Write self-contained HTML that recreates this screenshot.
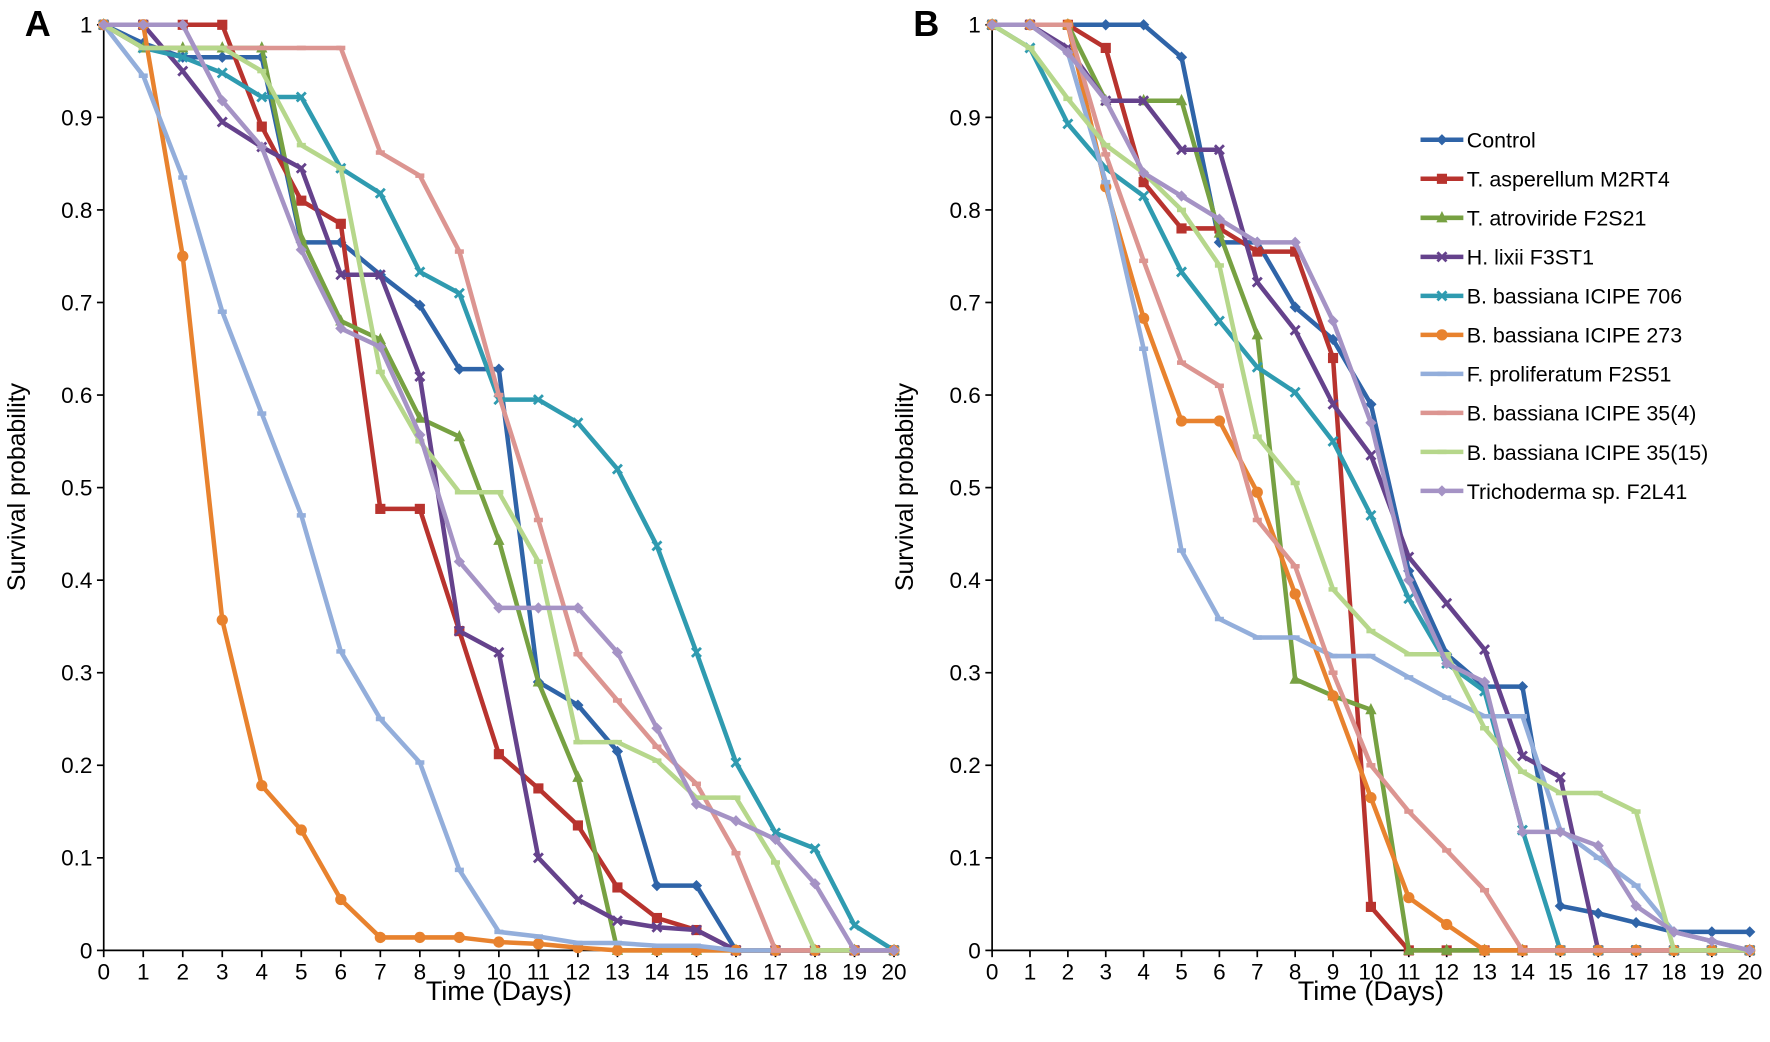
<!DOCTYPE html>
<html><head><meta charset="utf-8"><style>
html,body{margin:0;padding:0;background:#fff;}
svg{display:block;font-family:"Liberation Sans",Arial,sans-serif;}
</style></head><body>
<svg width="1770" height="1042" viewBox="0 0 1770 1042" xmlns="http://www.w3.org/2000/svg"><g id="s" transform="scale(1.1274)"></g></svg>
<script>
const C=["#2f64a8","#b8332e","#77a142","#65428c","#2f9bb0","#e8822e","#93aedb","#dc9591","#b6d78b","#a593c5"];
const names=["Control","T. asperellum M2RT4","T. atroviride F2S21","H. lixii F3ST1","B. bassiana ICIPE 706","B. bassiana ICIPE 273","F. proliferatum F2S51","B. bassiana ICIPE 35(4)","B. bassiana ICIPE 35(15)","Trichoderma sp. F2L41"];
const A=[
[1,0.98,0.965,0.965,0.965,0.765,0.765,0.73,0.697,0.628,0.628,0.29,0.265,0.215,0.07,0.07,0,0,0,0,0],
[1,1,1,1,0.89,0.81,0.785,0.477,0.477,0.345,0.212,0.175,0.135,0.068,0.035,0.022,0,0,0,0,0],
[1,0.975,0.975,0.975,0.975,0.77,0.68,0.66,0.575,0.555,0.443,0.29,0.187,0,0,0,0,0,0,0,0],
[1,1,0.95,0.895,0.868,0.845,0.73,0.73,0.62,0.345,0.322,0.1,0.055,0.032,0.025,0.022,0,0,0,0,0],
[1,0.975,0.965,0.948,0.922,0.922,0.845,0.818,0.733,0.71,0.595,0.595,0.57,0.52,0.437,0.322,0.203,0.127,0.11,0.027,0],
[1,1,0.75,0.357,0.178,0.13,0.055,0.014,0.014,0.014,0.009,0.007,0.003,0,0,0,0,0,0,0,0],
[1,0.945,0.835,0.69,0.58,0.47,0.323,0.25,0.203,0.087,0.02,0.015,0.008,0.008,0.005,0.005,0,0,0,0,0],
[1,0.975,0.975,0.975,0.975,0.975,0.975,0.862,0.837,0.755,0.6,0.465,0.32,0.27,0.22,0.18,0.105,0,0,0,0],
[1,0.975,0.975,0.975,0.95,0.87,0.845,0.625,0.55,0.495,0.495,0.42,0.225,0.225,0.205,0.165,0.165,0.095,0,0,0],
[1,1,1,0.918,0.868,0.757,0.672,0.652,0.557,0.42,0.37,0.37,0.37,0.322,0.24,0.158,0.14,0.12,0.072,0,0]];
const B=[
[1,1,1,1,1,0.965,0.765,0.765,0.695,0.66,0.59,0.41,0.32,0.285,0.285,0.048,0.04,0.03,0.02,0.02,0.02],
[1,1,1,0.975,0.83,0.78,0.78,0.755,0.755,0.64,0.047,0,0,0,0,0,0,0,0,0,0],
[1,1,1,0.918,0.918,0.918,0.775,0.665,0.293,0.275,0.26,0,0,0,0,0,0,0,0,0,0],
[1,1,0.975,0.918,0.918,0.865,0.865,0.722,0.67,0.59,0.535,0.425,0.375,0.325,0.21,0.187,0,0,0,0,0],
[1,0.975,0.893,0.845,0.815,0.733,0.68,0.63,0.603,0.55,0.47,0.38,0.31,0.28,0.13,0,0,0,0,0,0],
[1,1,1,0.825,0.683,0.572,0.572,0.495,0.385,0.275,0.165,0.057,0.028,0,0,0,0,0,0,0,0],
[1,1,0.97,0.83,0.65,0.432,0.358,0.338,0.338,0.318,0.318,0.295,0.273,0.253,0.253,0.13,0.1,0.07,0.02,0.01,0],
[1,1,1,0.86,0.745,0.635,0.61,0.465,0.415,0.3,0.2,0.15,0.108,0.065,0,0,0,0,0,0,0],
[1,0.975,0.92,0.87,0.84,0.8,0.74,0.555,0.505,0.39,0.345,0.32,0.32,0.24,0.193,0.17,0.17,0.15,0,0,0],
[1,1,0.97,0.918,0.84,0.815,0.79,0.765,0.765,0.68,0.57,0.4,0.31,0.29,0.128,0.128,0.113,0.048,0.02,0.01,0]];
let h="";
const Y0=843,Y1=22;
function marker(i,x,y){const c=C[i];
 switch(i){
 case 0:case 9:return `<polygon points="${x},${y-5} ${x+5},${y} ${x},${y+5} ${x-5},${y}" fill="${c}"/>`;
 case 1:return `<rect x="${x-4.5}" y="${y-4.5}" width="9" height="9" fill="${c}"/>`;
 case 2:return `<polygon points="${x},${y-6} ${x+5},${y+4} ${x-5},${y+4}" fill="${c}"/>`;
 case 5:return `<circle cx="${x}" cy="${y}" r="5" fill="${c}"/>`;
 case 3:case 4:return `<path d="M${x-4} ${y-4}L${x+4} ${y+4}M${x-4} ${y+4}L${x+4} ${y-4}" stroke="${c}" stroke-width="2.5"/>`;
 default:return `<rect x="${x-4}" y="${y-2}" width="8" height="4" fill="${c}"/>`;}}
function panel(D,x0,x1,lab){
 const sx=d=>x0+(x1-x0)*d/20, sy=v=>Y0-(Y0-Y1)*v;
 h+=`<line x1="${x0}" y1="${Y1}" x2="${x0}" y2="${Y0}" stroke="#000" stroke-width="1.5"/>`;
 h+=`<line x1="${x0}" y1="${Y0}" x2="${x1}" y2="${Y0}" stroke="#000" stroke-width="1.5"/>`;
 for(let k=0;k<=10;k++){const y=sy(k/10);h+=`<line x1="${x0-6}" y1="${y}" x2="${x0}" y2="${y}" stroke="#000" stroke-width="1.5"/>`;
  h+=`<text x="${x0-10}" y="${y+7}" font-size="20" text-anchor="end">${k==10?"1":k==0?"0":"0."+k}</text>`;}
 for(let d=0;d<=20;d++){const x=sx(d);h+=`<line x1="${x}" y1="${Y0}" x2="${x}" y2="${Y0+6}" stroke="#000" stroke-width="1.5"/>`;
  h+=`<text x="${x}" y="${Y0+26}" font-size="20" text-anchor="middle">${d}</text>`;}
 h+=`<text x="${(x0+x1)/2}" y="887" font-size="24" text-anchor="middle">Time (Days)</text>`;
 h+=`<text transform="translate(${x0-70},432) rotate(-90)" font-size="22" text-anchor="middle">Survival probability</text>`;
 h+=`<text x="${x0-70}" y="32" font-size="32" font-weight="bold">${lab}</text>`;
 D.forEach((s,i)=>{h+=`<polyline fill="none" stroke="${C[i]}" stroke-width="4" stroke-linejoin="round" points="${s.map((v,d)=>sx(d)+","+sy(v)).join(" ")}"/>`;
  s.forEach((v,d)=>h+=marker(i,sx(d),sy(v)));});
}
panel(A,92,793,"A");
panel(B,880,1552,"B");
names.forEach((n,i)=>{const y=124+i*34.6;h+=`<line x1="1260" y1="${y}" x2="1298" y2="${y}" stroke="${C[i]}" stroke-width="4"/>`+marker(i,1279,y);
 h+=`<text x="1301" y="${y+7}" font-size="19">${n}</text>`;});
document.getElementById("s").innerHTML=h;
</script>
</body></html>
